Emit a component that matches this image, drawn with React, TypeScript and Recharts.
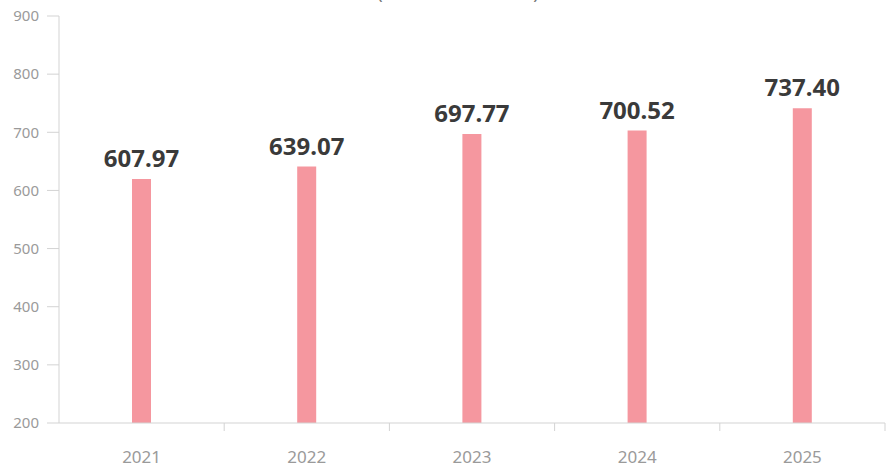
import { BarChart, Bar, XAxis, YAxis, LabelList } from 'recharts';

const years = ['2021', '2022', '2023', '2024', '2025'];
const barValues = [619.5, 641, 697, 703, 741.5];
const labelTexts = ['607.97', '639.07', '697.77', '700.52', '737.40'];
const yTicks = [200, 300, 400, 500, 600, 700, 800, 900];
const title = '(Unit: Million Units)';

const data = years.map((year, i) => ({ year, value: barValues[i] }));

const AXIS = '#d3d3d3';
const TICK_TEXT = '#9a9a9a';
const FONT = '"Noto Sans", "DejaVu Sans", sans-serif';

const XTick = (props: any) => {
  const { x, y, payload } = props;
  const half = 826 / 5 / 2;
  return (
    <g>
      <line x1={x + half} y1={y - 28} x2={x + half} y2={y - 20} stroke={AXIS} />
      <text
        x={x}
        y={y}
        dy="0.71em"
        textAnchor="middle"
        fill={TICK_TEXT}
        fontSize={17}
        fontFamily={FONT}
      >
        {payload.value}
      </text>
    </g>
  );
};

const ValueLabel = (props: any) => {
  const { x, y, width, index } = props;
  return (
    <text
      x={x + width / 2}
      y={y - 12}
      textAnchor="middle"
      fill="#3a3a3a"
      fontSize={24}
      fontWeight="bold"
      fontFamily={FONT}
    >
      {labelTexts[index]}
    </text>
  );
};

export default function App() {
  return (
    <div style={{ position: 'absolute', left: 0, top: -12 }}>
      <BarChart
        width={887}
        height={480}
        data={data}
        margin={{ top: 28, right: 2, bottom: 0, left: 0 }}
      >
        <text
          x={458}
          y={11}
          textAnchor="middle"
          fill="#777"
          fontSize={18}
          fontFamily={FONT}
        >
          {title}
        </text>
        <XAxis
          dataKey="year"
          stroke={AXIS}
          tickLine={false}
          tickSize={8}
          tickMargin={20}
          height={45}
          tick={<XTick />}
        />
        <YAxis
          domain={[200, 900]}
          ticks={yTicks}
          width={59}
          stroke={AXIS}
          tickSize={12}
          tickMargin={8}
          tick={{ fill: TICK_TEXT, fontSize: 15, fontFamily: FONT }}
        />
        <Bar dataKey="value" fill="#f5979f" barSize={19} isAnimationActive={false}>
          <LabelList dataKey="value" content={<ValueLabel />} />
        </Bar>
      </BarChart>
    </div>
  );
}
